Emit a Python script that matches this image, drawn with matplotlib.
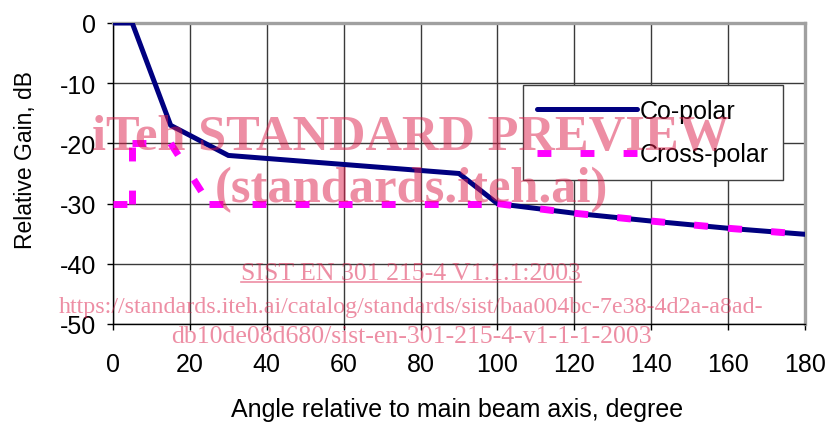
import matplotlib
matplotlib.use('Agg')
import matplotlib.pyplot as plt
from matplotlib.lines import Line2D

# angle (degree) / relative gain (dB)
copolar_x = [0, 5, 15, 30, 90, 100, 120, 140, 160, 180]
copolar_y = [0, 0, -17, -22, -25, -30, -31.6, -32.9, -34.1, -35.1]
cross_x = [0, 5, 5, 15, 25, 100, 120, 140, 160, 180]
cross_y = [-30, -30, -20, -20, -30, -30, -31.6, -32.9, -34.1, -35.1]

XTICKS = list(range(0, 181, 20))
YTICKS = list(range(-50, 1, 10))
XLABEL = 'Angle relative to main beam axis, degree'
YLABEL = 'Relative Gain, dB'

WATERMARK_BIG = ['iTeh STANDARD PREVIEW', '(standards.iteh.ai)']
WATERMARK_SMALL = ['SIST EN 301 215-4 V1.1.1:2003',
                   'https://standards.iteh.ai/catalog/standards/sist/baa004bc-7e38-4d2a-a8ad-',
                   'db10de08d680/sist-en-301-215-4-v1-1-1-2003']

plt.rcParams['font.family'] = ['Liberation Sans', 'DejaVu Sans']
plt.rcParams['axes.unicode_minus'] = False

fig = plt.figure(figsize=(8.26, 4.27), dpi=100)
ax = fig.add_axes([0.1368, 0.2389, 0.8378, 0.7049])

ax.plot(copolar_x, copolar_y, color='#000080', lw=3.6, solid_capstyle='round',
        solid_joinstyle='miter', label='Co-polar', zorder=3)

# excel restarts the dash pattern on every segment
DASH = (0, (2.0, 4.2))
for i in range(len(cross_x) - 1):
    ax.plot(cross_x[i:i + 2], cross_y[i:i + 2], color='#FF00FF', lw=5, linestyle=DASH,
            dash_capstyle='butt', zorder=4, label='Cross-polar' if i == 0 else None)

ax.set_xlim(0, 180)
ax.set_ylim(-50, 0)
ax.set_xticks(XTICKS)
ax.set_yticks(YTICKS)
ax.grid(True, color='#3a3a3a', lw=1)
ax.set_axisbelow(True)

for s in ['top', 'right']:
    ax.spines[s].set_color('#a0a0a0')
    ax.spines[s].set_linewidth(2.4)
for s in ['left', 'bottom']:
    ax.spines[s].set_color('black')
    ax.spines[s].set_linewidth(1)

ax.tick_params(axis='both', direction='out', length=4, width=1, labelsize=18)
ax.tick_params(axis='x', pad=16)
ax.tick_params(axis='y', pad=8)
ax.set_xlabel(XLABEL, fontsize=18)
ax.xaxis.set_label_coords(0.497, -0.242)
ax.set_ylabel(YLABEL, fontsize=16.5)
ax.yaxis.set_label_coords(-0.11, 0.548)

leg = ax.legend(loc='upper left', bbox_to_anchor=(0.5925, 0.794), fontsize=18,
                frameon=True, fancybox=False, handlelength=4.0, handletextpad=0.12,
                borderpad=0.55, labelspacing=0.78, borderaxespad=0)
leg.get_frame().set_edgecolor('#404040')
leg.get_frame().set_linewidth(1)
leg.get_frame().set_alpha(1)

# watermark
wm = dict(color='#DC1E4A', alpha=0.5, ha='center', va='baseline', family='Liberation Serif')
fig.text(0.4976, 0.6487, WATERMARK_BIG[0], fontsize=36.4, weight='bold', **wm)
fig.text(0.4976, 0.527, WATERMARK_BIG[1], fontsize=36.4, weight='bold', **wm)
t3 = fig.text(0.4976, 0.3443, WATERMARK_SMALL[0], fontsize=18.5, **wm)
fig.text(0.4976, 0.267, WATERMARK_SMALL[1], fontsize=17.3, **wm)
fig.text(0.4976, 0.1967, WATERMARK_SMALL[2], fontsize=18.5, **wm)

fig.canvas.draw()
bb = t3.get_window_extent().transformed(fig.transFigure.inverted())
fig.add_artist(Line2D([bb.x0, bb.x1], [0.3443 - 0.006] * 2, transform=fig.transFigure,
                      color='#DC1E4A', alpha=0.5, lw=1.2))

plt.savefig('out.png', dpi=100)
